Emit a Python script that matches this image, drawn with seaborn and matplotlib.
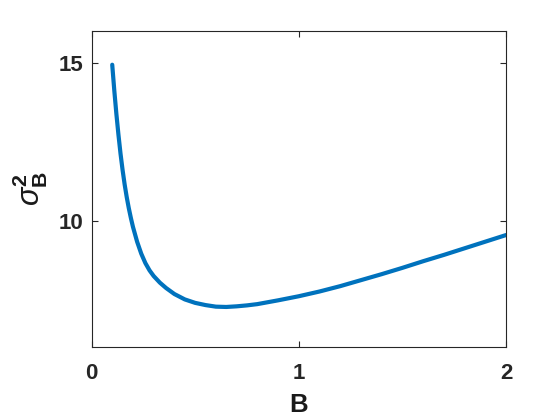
import matplotlib
matplotlib.use("Agg")
import matplotlib.pyplot as plt
import seaborn as sns
import pandas as pd

B_values = [0.10, 0.11, 0.12, 0.13, 0.14, 0.15, 0.16, 0.17, 0.18, 0.19, 0.20,
            0.22, 0.24, 0.26, 0.28, 0.30, 0.33, 0.36, 0.40,
            0.45, 0.50, 0.55, 0.60, 0.65, 0.70, 0.75, 0.80, 0.90, 1.00, 1.10,
            1.20, 1.30, 1.40, 1.50, 1.60, 1.70, 1.80, 1.90, 2.00]
sigma2_values = [14.94, 14.12, 13.38, 12.72, 12.12, 11.60, 11.14, 10.74, 10.39, 10.08, 9.80,
                 9.33, 8.95, 8.65, 8.42, 8.24, 8.03, 7.86, 7.67,
                 7.50, 7.39, 7.32, 7.27, 7.26, 7.28, 7.31, 7.35, 7.47, 7.60, 7.75,
                 7.92, 8.11, 8.30, 8.50, 8.71, 8.91, 9.12, 9.33, 9.54]
x_ticks = [0, 1, 2]
y_ticks = [10, 15]

sns.set_style("white")
plt.rcParams['font.family'] = ['Liberation Sans', 'DejaVu Sans']
plt.rcParams['mathtext.fontset'] = 'custom'
plt.rcParams['mathtext.rm'] = 'Liberation Sans:bold'
plt.rcParams['mathtext.bf'] = 'Liberation Sans:bold'
plt.rcParams['mathtext.it'] = 'Liberation Sans:italic'

df = pd.DataFrame({"B": B_values, "sigma2": sigma2_values})

fig = plt.figure(figsize=(5.6, 4.2), dpi=100)
ax = fig.add_axes([0.1634, 0.1745, 0.7402, 0.751])
sns.lineplot(data=df, x="B", y="sigma2", ax=ax, color="#0072BD", linewidth=3.0)

ax.set_xlim(0, 2)
ax.set_ylim(6, 16)
ax.set_xticks(x_ticks)
ax.set_yticks(y_ticks)
ax.set_xticklabels([str(t) for t in x_ticks], fontsize=16, fontweight='bold', color='#1a1a1a')
ax.set_yticklabels([str(t) for t in y_ticks], fontsize=16, fontweight='bold', color='#1a1a1a')
ax.tick_params(direction='in', length=4, width=0.8, colors='#262626',
               top=True, right=True, bottom=True, left=True)
ax.tick_params(axis='x', pad=12)
ax.tick_params(axis='y', pad=6)
for s in ax.spines.values():
    s.set_visible(True)
    s.set_color('#262626')
    s.set_linewidth(0.8)

ax.set_xlabel('B', fontsize=18.5, fontweight='bold', labelpad=6, color='#1a1a1a')
ax.set_ylabel(r'$\sigma_{\mathbf{B}}^{\mathbf{2}}$', fontsize=22, labelpad=6, color='#1a1a1a')
ax.grid(False)

fig.savefig("out.png", dpi=100, facecolor='white')
